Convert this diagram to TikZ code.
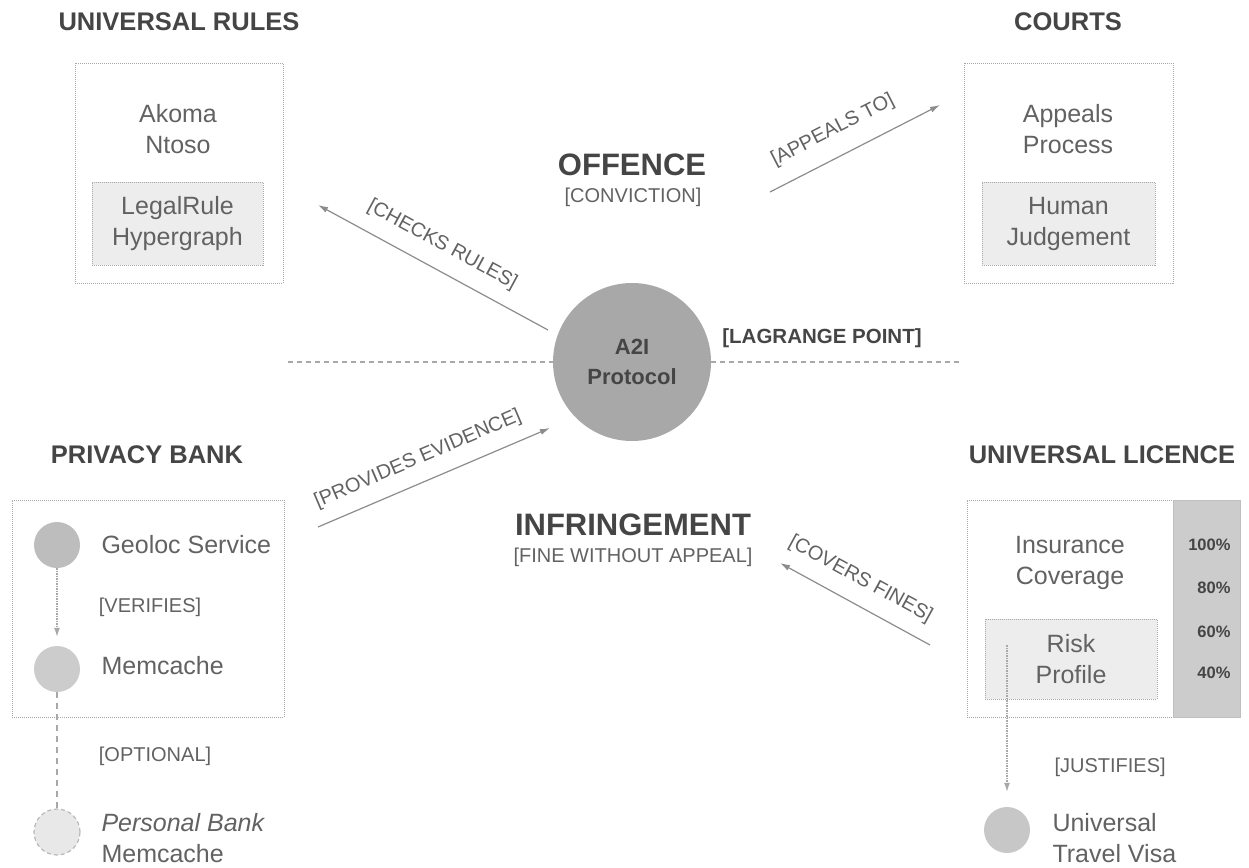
\documentclass[tikz,border=0pt]{standalone}
\usepackage{fontspec}
\setmainfont{Liberation Sans}
\usetikzlibrary{arrows.meta}
\definecolor{headgray}{HTML}{454545}
\definecolor{txtgray}{HTML}{626262}
\definecolor{framegray}{HTML}{A8A8A8}
\definecolor{linkgray}{HTML}{8C8C8C}
\definecolor{boxfill}{HTML}{EDEDED}
\begin{document}
\begin{tikzpicture}[x=1pt,y=-1pt,
  head/.style={font=\fontsize{25.5}{29}\selectfont\bfseries,text=headgray},
  big/.style={font=\fontsize{31}{35}\selectfont\bfseries,text=headgray},
  body/.style={font=\fontsize{25}{31}\selectfont,text=txtgray,align=center},
  tag/.style={font=\fontsize{20}{24}\selectfont,text=txtgray},
  pct/.style={font=\fontsize{16.5}{18}\selectfont\bfseries,text=headgray,anchor=east},
  frame/.style={draw=framegray,dash pattern=on 1pt off 1pt,line width=0.8pt,inner sep=0pt},
  inbox/.style={frame,fill=boxfill,text=txtgray!85!black},
  link/.style={draw=linkgray,line width=1.2pt,-{Latex[length=10pt,width=6pt]}},
  softlink/.style={draw=framegray,line width=1.2pt,dash pattern=on 1.5pt off 1pt,-{Latex[length=9pt,width=6pt]}},
  dot/.style={circle,minimum size=46pt,inner sep=0pt}]
\useasboundingbox (0,0) rectangle (1249,867);

\node[head] (rules-h) at (179,22) {UNIVERSAL RULES};
\node[frame,minimum width=208pt,minimum height=220pt] (rules) at (179,173) {};
\node[body] (akoma) at (178,129) {Akoma\\Ntoso};
\node[inbox,body,minimum width=171pt,minimum height=83pt] (legal) at (177.5,223.5) {LegalRule\\Hypergraph};

\node[head] (courts-h) at (1068,22) {COURTS};
\node[frame,minimum width=209pt,minimum height=220pt] (courts) at (1068.5,173) {};
\node[body] (appeals) at (1068,129) {Appeals\\Process};
\node[inbox,body,minimum width=173pt,minimum height=83pt] (human) at (1068.5,223.5) {Human\\Judgement};

\node[big] (offence) at (632,165) {OFFENCE};
\node[tag] (conviction) at (633,197) {[CONVICTION]};
\node[big] (infr) at (633,525) {INFRINGEMENT};
\node[tag] (fine) at (633,557) {[FINE WITHOUT APPEAL]};

\node[circle,fill=black!34,minimum size=158pt,inner sep=0pt,align=center,
  font=\fontsize{22}{30}\selectfont\bfseries,text=headgray] (proto) at (632,362) {A2I\\Protocol};
\node[tag,font=\fontsize{20.5}{24}\selectfont\bfseries,text=headgray] (lagrange) at (822,338) {[LAGRANGE POINT]};
\coordinate (axis-l) at (288,362);
\coordinate (axis-r) at (960,362);
\draw[framegray,line width=1.2pt,dash pattern=on 5pt off 4pt] (axis-l) -- (proto.west);
\draw[framegray,line width=1.2pt,dash pattern=on 5pt off 4pt] (proto.east) -- (axis-r);

\coordinate (chk-a) at (318,205);
\coordinate (chk-b) at (548,330);
\draw[link,{Latex[length=10pt,width=6pt]}-] (chk-a) -- node[tag,sloped,above=11pt,pos=0.49] {[CHECKS RULES]} (chk-b);
\coordinate (app-a) at (770,192);
\coordinate (app-b) at (940,105);
\draw[link] (app-a) -- node[tag,sloped,above=13pt,pos=0.44] {[APPEALS TO]} (app-b);
\coordinate (evi-a) at (318,527);
\coordinate (evi-b) at (550,428);
\draw[link] (evi-a) -- node[tag,sloped,above=10pt,pos=0.47] {[PROVIDES EVIDENCE]} (evi-b);
\coordinate (cov-a) at (780,563);
\coordinate (cov-b) at (930,645);
\draw[link,{Latex[length=10pt,width=6pt]}-] (cov-a) -- node[tag,sloped,above=11pt,pos=0.46] {[COVERS FINES]} (cov-b);

\node[head] (privacy-h) at (147,455) {PRIVACY BANK};
\node[frame,minimum width=272pt,minimum height=217pt] (privacy) at (148,608.5) {};
\node[dot,fill=black!26] (geoloc) at (57,545) {};
\node[body,anchor=west] (geoloc-t) at (98,545) {Geoloc Service};
\node[dot,fill=black!20] (memc) at (57,669) {};
\node[body,anchor=west] (memc-t) at (98,666) {Memcache};
\node[dot,fill=black!9,draw=framegray!80,line width=1.2pt,dash pattern=on 4pt off 3pt] (pers) at (57,832) {};
\node[body,anchor=west,align=left] (pers-t) at (98,838) {\itshape Personal Bank\\Memcache};
\draw[softlink,shorten >=9pt] (geoloc) -- node[tag,anchor=west,xshift=38pt] {[VERIFIES]} (memc);
\draw[framegray,line width=1.2pt,dash pattern=on 6pt off 5pt] (memc) -- node[tag,anchor=west,xshift=38pt,pos=0.55] {[OPTIONAL]} (pers);

\node[head] (licence-h) at (1102,455) {UNIVERSAL LICENCE};
\node[frame,minimum width=206pt,minimum height=217pt] (licence) at (1070,608.5) {};
\node[fill=black!20,draw=black!25,minimum width=67pt,minimum height=217pt,inner sep=0pt] (bar) at (1206.5,608.5) {};
\node[pct] (p100) at (1234,545) {100\%};
\node[pct] (p80) at (1234,588) {80\%};
\node[pct] (p60) at (1234,632) {60\%};
\node[pct] (p40) at (1234,673) {40\%};
\node[body] (insur) at (1070,563) {Insurance\\Coverage};
\node[inbox,body,minimum width=172pt,minimum height=80pt] (risk) at (1071,659) {Risk\\Profile};
\node[dot,fill=black!22] (visa) at (1007,830) {};
\node[body,anchor=west,align=left] (visa-t) at (1049,838) {Universal\\Travel Visa};
\coordinate (jst) at (1007,645);
\draw[softlink,shorten >=15pt] (jst) -- (visa);
\node[tag,anchor=west] (justifies) at (1051,767) {[JUSTIFIES]};
\end{tikzpicture}
\end{document}
